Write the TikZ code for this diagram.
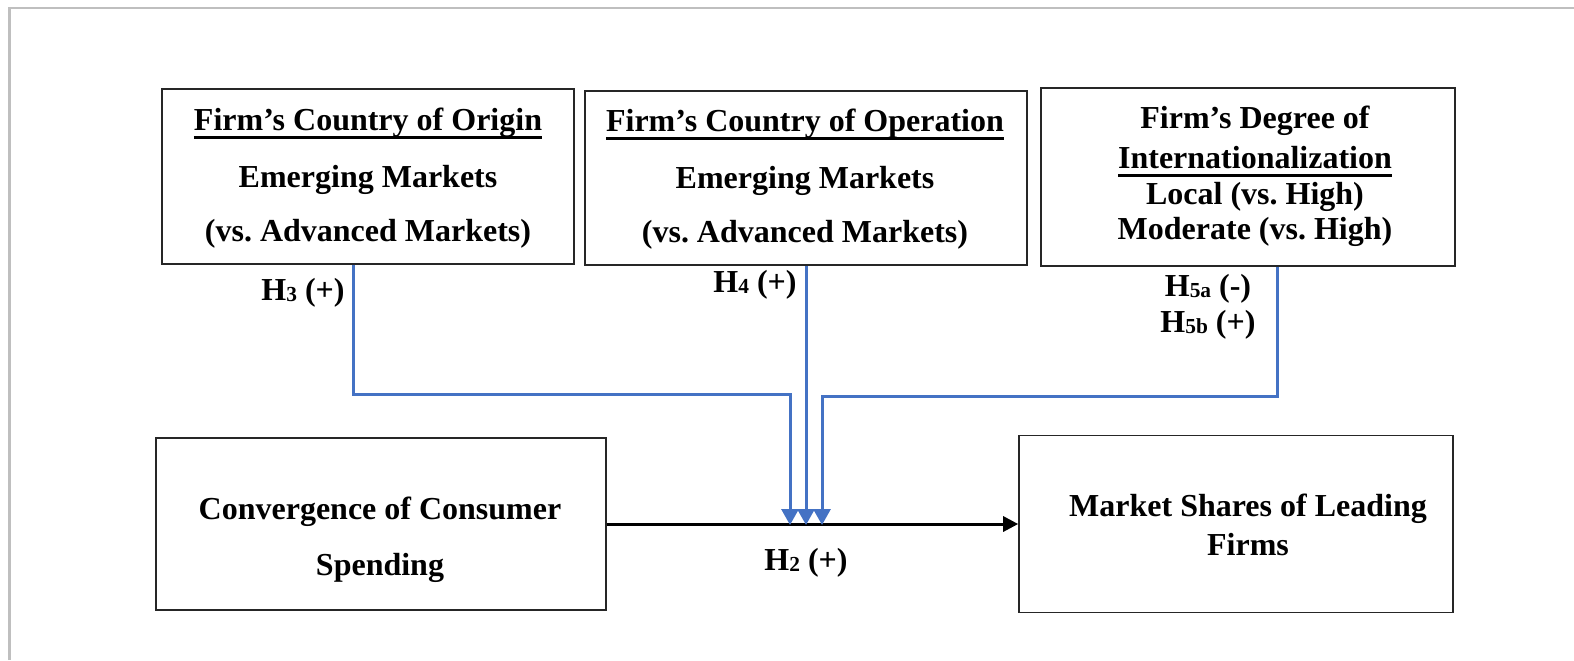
\documentclass[tikz,border=0pt]{standalone}
\usepackage{fontspec}
\setmainfont{Liberation Serif}
\usetikzlibrary{arrows.meta}
\frenchspacing

\definecolor{hypblue}{RGB}{68,114,196}
\definecolor{framegray}{RGB}{191,191,191}

% heavier underline for the box headings
\newcommand{\uhead}[1]{\setbox0\hbox{#1}\rlap{\rule[-4.5pt]{\wd0}{1.7pt}}\box0}
% small index after H
\newcommand{\hsub}[1]{{\fontsize{10.7}{10}\selectfont\raisebox{-0.6pt}{#1}}}

\begin{document}
\begin{tikzpicture}[x=0.5pt, y=-0.5pt,
  every node/.style={font=\bfseries\fontsize{16}{17.5}\selectfont, inner sep=0pt},
  box/.style={draw=black!85, line width=0.8pt},
  txt/.style={align=center},
  hyp/.style={draw=hypblue, line width=1.5pt, -{Triangle[length=8pt,width=8.5pt]}},
  main/.style={line width=1.5pt, -{Triangle[length=7.5pt,width=7.5pt]}}]

\useasboundingbox (0,0) rectangle (1574,660);
\draw[framegray, line width=1.3pt] (9.5,660) |- (1574,8);

% moderators
\node[box, minimum width=206pt, minimum height=87.5pt] (origin) at (368,176.5) {};
\node[txt] (origintxt) at (368,178) {\uhead{Firm’s Country of Origin}\\[11pt]
  Emerging Markets\\[9.5pt] (vs. Advanced Markets)};

\node[box, minimum width=221pt, minimum height=87pt] (operation) at (806,178) {};
\node[txt] (operationtxt) at (805,179) {\uhead{Firm’s Country of Operation}\\[11pt]
  Emerging Markets\\[9.5pt] (vs. Advanced Markets)};

\node[box, minimum width=207pt, minimum height=89pt] (degree) at (1248,177) {};
\node[txt] (degreetxt) at (1255,176.5) {Firm’s Degree of\\[2.2pt]
  \uhead{Internationalization}\\[0.6pt] Local (vs. High)\\ Moderate (vs. High)};

% main effect
\node[box, minimum width=225pt, minimum height=86pt] (spending) at (381,524) {};
\node[txt] (spendingtxt) at (380,540) {Convergence of Consumer\\[10.5pt] Spending};

\node[box, minimum width=217pt, minimum height=88.5pt] (shares) at (1236,524) {};
\node[txt] (sharestxt) at (1248,525) {Market Shares of Leading\\[2.3pt] Firms};

\coordinate (m3) at (790,525);
\coordinate (m4) at (806,525);
\coordinate (m5) at (822,525);

\draw[main] (spending) -- (shares);
\draw[hyp] ([xshift=-7.5pt]origin.south) -- ++(0,130) -| (m3);
\draw[hyp] (operation.south) -- (m4);
\draw[hyp] ([xshift=14.5pt]degree.south) -- ++(0,130) -| (m5);

% hypothesis labels
\node[anchor=base east] (h3) at (345,300) {H\hsub{3} (+)};
\node[anchor=base east] (h4) at (797,292) {H\hsub{4} (+)};
\node[txt] (h5) at (1208,307) {H\hsub{5a} (-)\\[0.5pt] H\hsub{5b} (+)};
\node[anchor=base] (h2) at (806,570) {H\hsub{2} (+)};

\end{tikzpicture}
\end{document}
